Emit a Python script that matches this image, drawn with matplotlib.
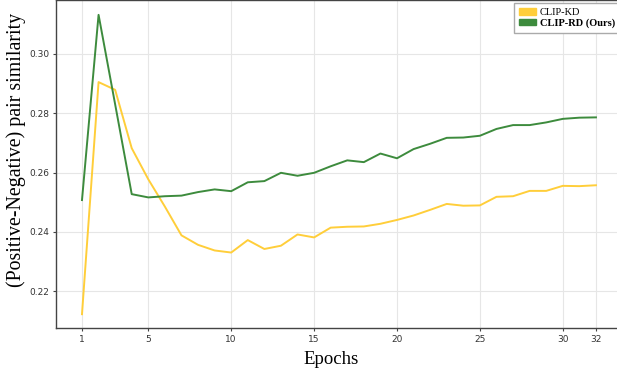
import matplotlib.pyplot as plt
from matplotlib.patches import Patch

epochs = list(range(1, 33))

clip_kd = [0.2122, 0.2905, 0.2879, 0.2682, 0.2577, 0.2485, 0.2388, 0.2356,
           0.2337, 0.2330, 0.2372, 0.2342, 0.2353, 0.2391, 0.2381, 0.2414,
           0.2417, 0.2418, 0.2427, 0.2440, 0.2455, 0.2474, 0.2494, 0.2488,
           0.2489, 0.2518, 0.2520, 0.2538, 0.2538, 0.2555, 0.2554, 0.2557]

clip_rd = [0.2507, 0.3132, 0.2830, 0.2527, 0.2516, 0.2520, 0.2522, 0.2534,
           0.2543, 0.2537, 0.2567, 0.2571, 0.2599, 0.2589, 0.2599, 0.2621,
           0.2641, 0.2635, 0.2664, 0.2648, 0.2679, 0.2697, 0.2717, 0.2718,
           0.2724, 0.2747, 0.2760, 0.2760, 0.2769, 0.2781, 0.2785, 0.2786]

xticks = [1, 5, 10, 15, 20, 25, 30, 32]
yticks = [0.22, 0.24, 0.26, 0.28, 0.30]

yellow = '#FFCE3A'
green = '#3D8B3D'

fig = plt.figure(figsize=(6.17, 3.75), dpi=100)
# axes run a little past the right edge, like the reference crop
ax = fig.add_axes([0.0915, 0.125, 0.9214, 0.875])

ax.plot(epochs, clip_kd, color=yellow, lw=1.4)
ax.plot(epochs, clip_rd, color=green, lw=1.4)

ax.set_xlim(-0.54, 33.75)
ax.set_ylim(0.2075, 0.3182)
ax.set_xticks(xticks)
ax.set_yticks(yticks)
ax.set_yticklabels(['%.2f' % v for v in yticks])
ax.tick_params(length=2.2, width=0.8, labelsize=6.5, color='#444444',
               labelcolor='#333333', pad=3)
ax.grid(True, color='#e6e6e6', lw=0.8)
ax.set_axisbelow(True)
for s in ax.spines.values():
    s.set_color('#444444')
    s.set_linewidth(1.0)

ax.set_xlabel('Epochs', fontsize=13.5, family='Liberation Serif')
ax.set_ylabel('(Positive-Negative) pair similarity', fontsize=14.3,
              family='Liberation Serif')
ax.xaxis.set_label_coords(0.4837, -0.07)
ax.yaxis.set_label_coords(-0.054, 0.543)

handles = [Patch(color=yellow, label='CLIP-KD'),
           Patch(color=green, label='CLIP-RD (Ours)')]
leg = ax.legend(handles=handles, loc='upper right', bbox_to_anchor=(0.995, 0.997),
                prop={'family': 'Liberation Serif', 'size': 7.5},
                fancybox=False, framealpha=1, edgecolor='#aaaaaa',
                handlelength=1.6, handleheight=0.6, borderpad=0.5,
                labelspacing=0.1, handletextpad=0.35, borderaxespad=0.2)
leg.get_texts()[1].set_fontweight('bold')
leg.get_frame().set_linewidth(1.0)

fig.savefig('out.png', dpi=100)
